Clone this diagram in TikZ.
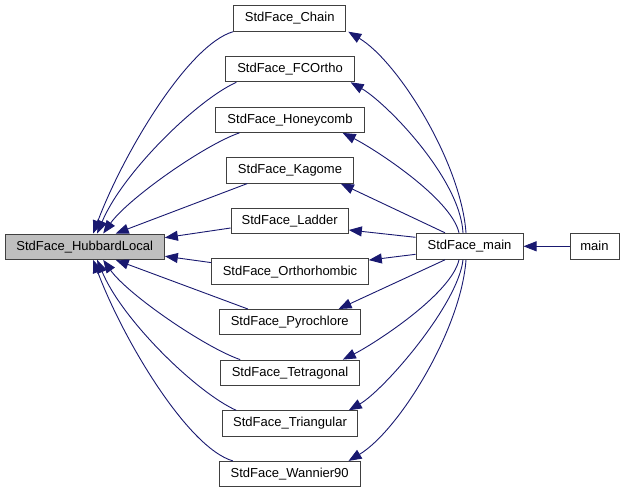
\documentclass[tikz,border=0pt]{standalone}
\usepackage{fontspec}
\setmainfont{Liberation Sans}
\usetikzlibrary{arrows.meta,calc}
\definecolor{edgeblue}{HTML}{191970}
\definecolor{hubgray}{HTML}{BFBFBF}
\definecolor{boxline}{HTML}{404040}
\begin{document}
\begin{tikzpicture}[x=1pt,y=-1pt,
  box/.style={draw=boxline, line width=1pt, rectangle, inner sep=0pt,
    minimum height=25.4pt, font=\fontsize{13}{15}\selectfont, fill=white},
  edge/.style={draw=edgeblue, line width=0.9pt,
    -{Triangle[length=13pt,width=10pt,fill=edgeblue]}}]
\useasboundingbox (0,0) rectangle (627,493);
% nodes
\node[box, fill=hubgray, minimum width=159.3pt] (hub) at (84.7,246.7) {StdFace\_HubbardLocal};
\node[box, minimum width=112.2pt] (chain)  at (289.7,18.5)  {StdFace\_Chain};
\node[box, minimum width=128.3pt] (fco)    at (290,69.1)    {StdFace\_FCOrtho};
\node[box, minimum width=148.3pt] (honey)  at (290,119.7)   {StdFace\_Honeycomb};
\node[box, minimum width=126.6pt] (kagome) at (290,170.4)   {StdFace\_Kagome};
\node[box, minimum width=117.3pt] (ladder) at (289.7,221.0) {StdFace\_Ladder};
\node[box, minimum width=156.6pt] (ortho)  at (290,271.6)   {StdFace\_Orthorhombic};
\node[box, minimum width=140.7pt] (pyro)   at (289.7,322.2) {StdFace\_Pyrochlore};
\node[box, minimum width=138.6pt] (tetra)  at (290,372.8)   {StdFace\_Tetragonal};
\node[box, minimum width=134.6pt] (tri)    at (290,423.5)   {StdFace\_Triangular};
\node[box, minimum width=140.7pt] (wan)    at (289.7,474.1) {StdFace\_Wannier90};
\node[box, minimum width=107pt, minimum height=26pt] (sm)   at (469.5,246.3) {StdFace\_main};
\node[box, minimum width=49pt,  minimum height=26pt] (main) at (594.5,246.3) {main};
% edges to HubbardLocal
\draw[edge] (chain.south west) .. controls +(-45,13) and +(30,-80) .. ($(hub.north)+(8.5,0)$);
\draw[edge] ($(fco.south west)+(11,0)$) .. controls +(-40,18) and +(25,-60) .. ($(hub.north)+(12.5,0)$);
\draw[edge] ($(honey.south west)+(24,0)$) .. controls +(-35,12) and +(25,-35) .. ($(hub.north)+(18.5,0)$);
\draw[edge] ($(kagome.south west)+(21,0)$) -- ($(hub.north)+(31,0)$);
\draw[edge] ($(ladder.west)+(0,7)$) -- ($(hub.east)+(0,-9)$);
\draw[edge] ($(ortho.west)+(0,-9)$) -- ($(hub.east)+(0,9.5)$);
\draw[edge] ($(pyro.north west)+(29,0)$) -- ($(hub.south)+(31,0)$);
\draw[edge] ($(tetra.north west)+(20,0)$) .. controls +(-35,-12) and +(25,35) .. ($(hub.south)+(18.5,0)$);
\draw[edge] ($(tri.north west)+(14,0)$) .. controls +(-40,-18) and +(25,60) .. ($(hub.south)+(12.5,0)$);
\draw[edge] ($(wan.north west)+(14,0)$) .. controls +(-45,-13) and +(30,80) .. ($(hub.south)+(8.5,0)$);
% edges from StdFace_main
\draw[edge] ($(sm.north)+(-3.5,0)$) .. controls +(-5,-70) and +(50,30) .. ($(chain.south east)+(2,0)$);
\draw[edge] ($(sm.north)+(-6.5,0)$) .. controls +(-3,-55) and +(35,20) .. ($(fco.south east)+(-4,0)$);
\draw[edge] ($(sm.north)+(-10.5,0)$) .. controls +(-8,-35) and +(30,15) .. ($(honey.south east)+(-22,0)$);
\draw[edge] ($(sm.north)+(-24.5,0)$) -- ($(kagome.south east)+(-13,0)$);
\draw[edge] ($(sm.west)+(0,-9)$) -- ($(ladder.east)+(0,9)$);
\draw[edge] ($(sm.west)+(0,8)$) -- ($(ortho.east)+(0,-11.5)$);
\draw[edge] ($(sm.south)+(-24.5,0)$) -- ($(pyro.north east)+(-22,0)$);
\draw[edge] ($(sm.south)+(-10.5,0)$) .. controls +(-8,35) and +(30,-15) .. ($(tetra.north east)+(-17,0)$);
\draw[edge] ($(sm.south)+(-6.5,0)$) .. controls +(-5,45) and +(35,-20) .. ($(tri.north east)+(-9,0)$);
\draw[edge] ($(sm.south)+(-3.5,0)$) .. controls +(-5,70) and +(50,-30) .. ($(wan.north east)+(-12,0)$);
\draw[edge] (main.west) -- (sm.east);
\end{tikzpicture}
\end{document}
